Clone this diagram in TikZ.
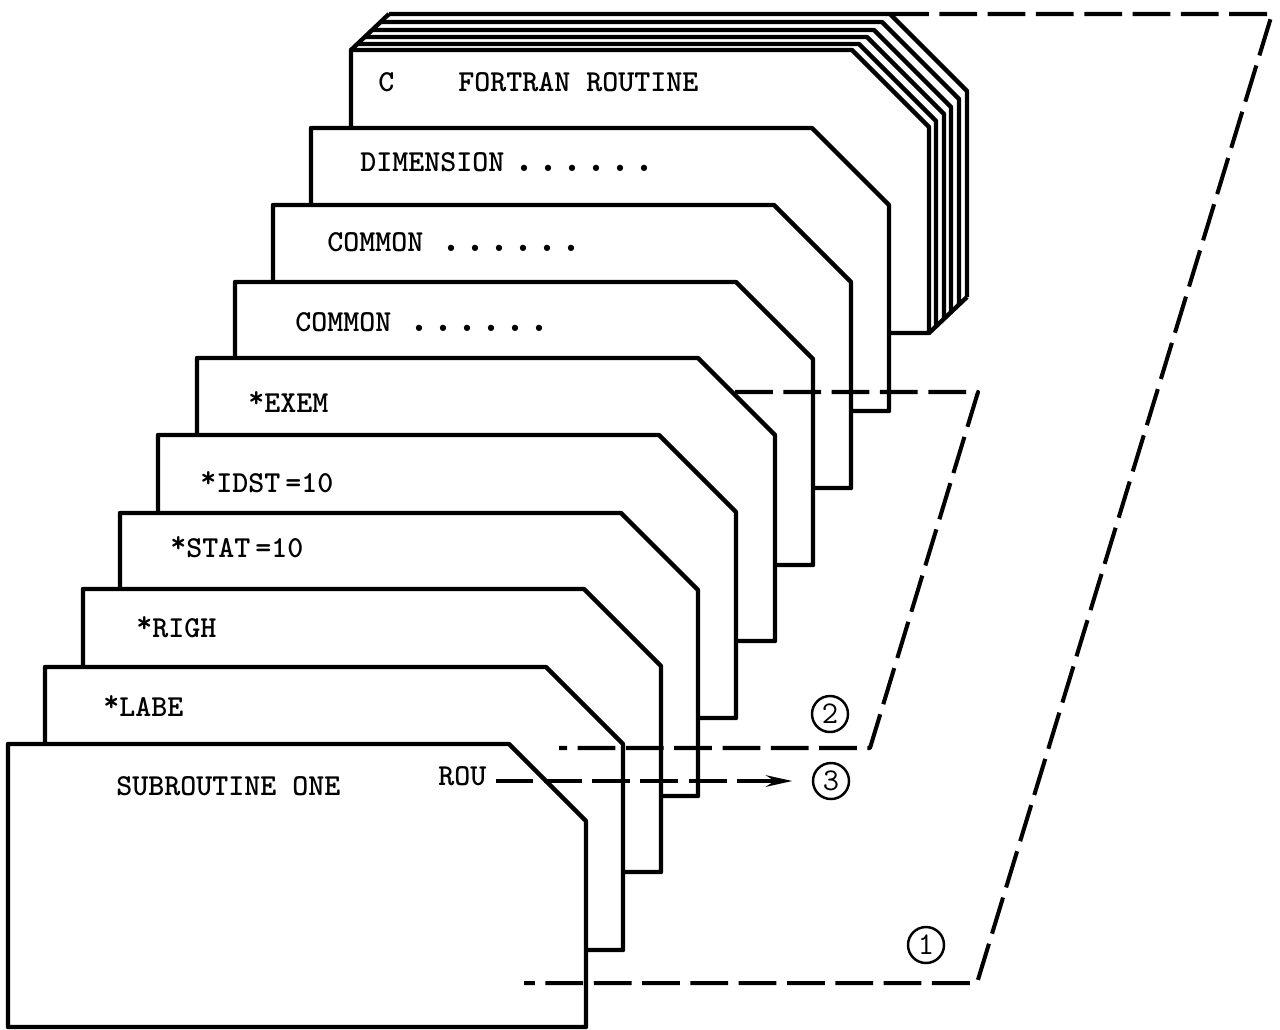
\documentclass[tikz,border=0pt]{standalone}
\usepackage{tikz}
\usetikzlibrary{arrows.meta}
\tikzstyle{cardline} = [line width=2.5pt, line join=round, draw=black, fill=white]
\tikzstyle{cardtext} = [anchor=west, inner sep=0pt, font=\fontsize{17.35}{20}\ttfamily\bfseries]
\tikzstyle{dashline} = [line width=2.3pt, dash pattern=on 21.5pt off 6pt, line join=round]
\tikzstyle{arrow} = [dashline, -{Stealth[length=15pt,width=6.5pt]}, shorten >=11pt, shorten <=5pt]
\tikzstyle{number} = [circle, draw=black, line width=1.4pt, minimum size=20.5pt, inner sep=0pt, font=\fontsize{18}{18}\ttfamily]
% one card of the deck, given by its top left corner
\newcommand{\drawcard}[2]{\filldraw [cardline] (#1,#2) -- ++(501,0) -- ++(77,77) -- ++(0,206) -- ++(-578,0) -- cycle;}
% a card at the back: only top and right edge show
\newcommand{\drawback}[2]{\fill [white] (#1,#2) -- ++(501,0) -- ++(77,77) -- ++(0,206) -- ++(-578,0) -- cycle;
\draw [cardline, fill=none] (#1,#2) -- ++(501,0) -- ++(77,77) -- ++(0,206);}
\newcommand{\dotrow}{{\fontsize{26}{20}\selectfont......}}
\newcommand{\cardstar}{\raisebox{3pt}{*}}
\begin{document}
\begin{tikzpicture}[x=0.02cm,y=-0.02cm]
\useasboundingbox (0,0) rectangle (1280,1029);

\drawback{389}{14}
\drawback{381}{22}
\drawback{373}{30}
\drawback{366}{37}
\drawback{358}{44}
\drawcard{351}{50}
\draw [cardline] (351,50) -- (389,14);
\draw [cardline] (929,333) -- (967,297);
\drawcard{311}{128}
\drawcard{273}{205}
\drawcard{235}{282}
\drawcard{197}{358}
\drawcard{158}{435}
\drawcard{120}{513}
\drawcard{83}{589}
\drawcard{45}{667}
\drawcard{8}{744}

\node (fortran) [cardtext] at (378,82) {C\ \ \ \ FORTRAN ROUTINE};
\node (dimension) [cardtext] at (360,162) {DIMENSION\hspace{4.5pt}\dotrow};
\node (commona) [cardtext] at (327,242) {COMMON \dotrow};
\node (commonb) [cardtext] at (295,322) {COMMON \dotrow};
\node (exem) [cardtext] at (248,402) {\cardstar EXEM};
\node (idst) [cardtext] at (200,482) {\cardstar IDST\,=10};
\node (stat) [cardtext] at (170,547) {\cardstar STAT\,=10};
\node (righ) [cardtext] at (136,627) {\cardstar RIGH};
\node (labe) [cardtext] at (103,706) {\cardstar LABE};
\node (subroutine) [cardtext] at (116,786) {SUBROUTINE ONE};
\node (rou) [cardtext] at (438,776) {ROU};

\node (one) [number] at (926,945) {1};
\node (two) [number] at (830,714) {2};
\node (three) [number] at (831,781) {3};

\coordinate (topa) at (891,14);
\coordinate (topb) at (1272,14);
\coordinate (bota) at (977,983);
\coordinate (botb) at (524,983);
\coordinate (mida) at (735,392);
\coordinate (midb) at (978,392);
\coordinate (midc) at (870,748);
\coordinate (midd) at (559,748);

\draw [dashline] (topa) -- (topb) -- (bota) -- (botb);
\draw [dashline] (mida) -- (midb) -- (midc) -- (midd);
\draw [arrow] (rou.east |- three) -- (three);
\end{tikzpicture}
\end{document}
